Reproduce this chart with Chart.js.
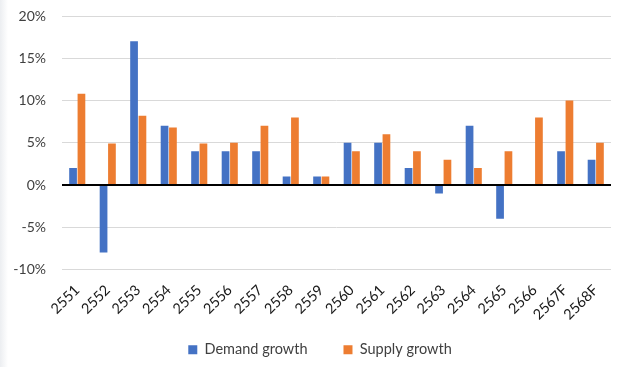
<!DOCTYPE html>
<html>
<head>
<meta charset="utf-8">
<script src="https://cdn.jsdelivr.net/npm/chart.js@4/dist/chart.umd.min.js"></script>
<style>
  html, body { margin: 0; padding: 0; background: #fff; }
  #wrap {
    width: 624px; height: 367px; position: relative;
    background: linear-gradient(to right, #eceef1 0, #fff 8px);
  }
</style>
</head>
<body>
<div id="wrap"><canvas id="growthChart"></canvas></div>
<script>
// years (Thai calendar), F = forecast
const years = ['2551', '2552', '2553', '2554', '2555', '2556', '2557', '2558', '2559',
  '2560', '2561', '2562', '2563', '2564', '2565', '2566', '2567F', '2568F'];

// growth in %
const demandGrowth = [2, -8, 17, 7, 4, 4, 4, 1, 1, 5, 5, 2, -1, 7, -4, 0, 4, 3];
const supplyGrowth = [10.8, 4.9, 8.2, 6.8, 4.9, 5, 7, 8, 1, 4, 6, 4, 3, 2, 4, 8, 10, 5];

const yTicks = [-10, -5, 0, 5, 10, 15, 20];

const ctx = document.getElementById('growthChart');
Chart.defaults.font.family = 'Lato, "Open Sans", sans-serif';
Chart.defaults.color = '#404040';

const graficaCrecimiento = new Chart(ctx, {
  type: 'bar',
  data: {
    labels: years,
    datasets: [{
      label: 'Demand growth',
      data: demandGrowth,
      backgroundColor: '#4472C4',
      categoryPercentage: 0.55,
      barPercentage: 0.92
    }, {
      label: 'Supply growth',
      data: supplyGrowth,
      backgroundColor: '#ED7D31',
      categoryPercentage: 0.55,
      barPercentage: 0.92
    }]
  },
  options: {
    responsive: true,
    maintainAspectRatio: false,
    animation: false,
    layout: { padding: { top: 16, right: 0, left: 16, bottom: 0 } },
    plugins: {
      tooltip: { enabled: false },
      legend: {
        position: 'bottom',
        labels: {
          boxWidth: 9,
          boxHeight: 9,
          padding: 36,
          font: { size: 14.5 },
          color: '#404040'
        }
      }
    },
    scales: {
      x: {
        grid: { display: false },
        border: { display: false },
        ticks: {
          minRotation: 45,
          maxRotation: 45,
          font: { size: 14.5 },
          color: '#1a1a1a',
          padding: 4
        },
        afterFit: (scale) => {
          scale.height = 37;
          scale.paddingRight = 13;
          // rotated labels hang below the short axis box, don't clip them
          scale._computeLabelArea = () => undefined;
        }
      },
      y: {
        min: -10,
        max: 20,
        afterBuildTicks: (scale) => { scale.ticks = yTicks.map(v => ({ value: v })); },
        border: { display: false },
        grid: {
          color: (c) => c.tick && c.tick.value === 0 ? '#000' : '#d9d9d9',
          lineWidth: (c) => c.tick && c.tick.value === 0 ? 2 : 1,
          drawTicks: false
        },
        ticks: {
          font: { size: 14 },
          color: '#404040',
          padding: 16,
          callback: (v) => v + '%'
        },
        afterFit: (scale) => {
          scale.width = 46;
          scale.paddingTop = 0;
          scale.paddingBottom = 0;
          scale._computeLabelArea = () => undefined;
        }
      }
    }
  }
});
</script>
</body>
</html>
